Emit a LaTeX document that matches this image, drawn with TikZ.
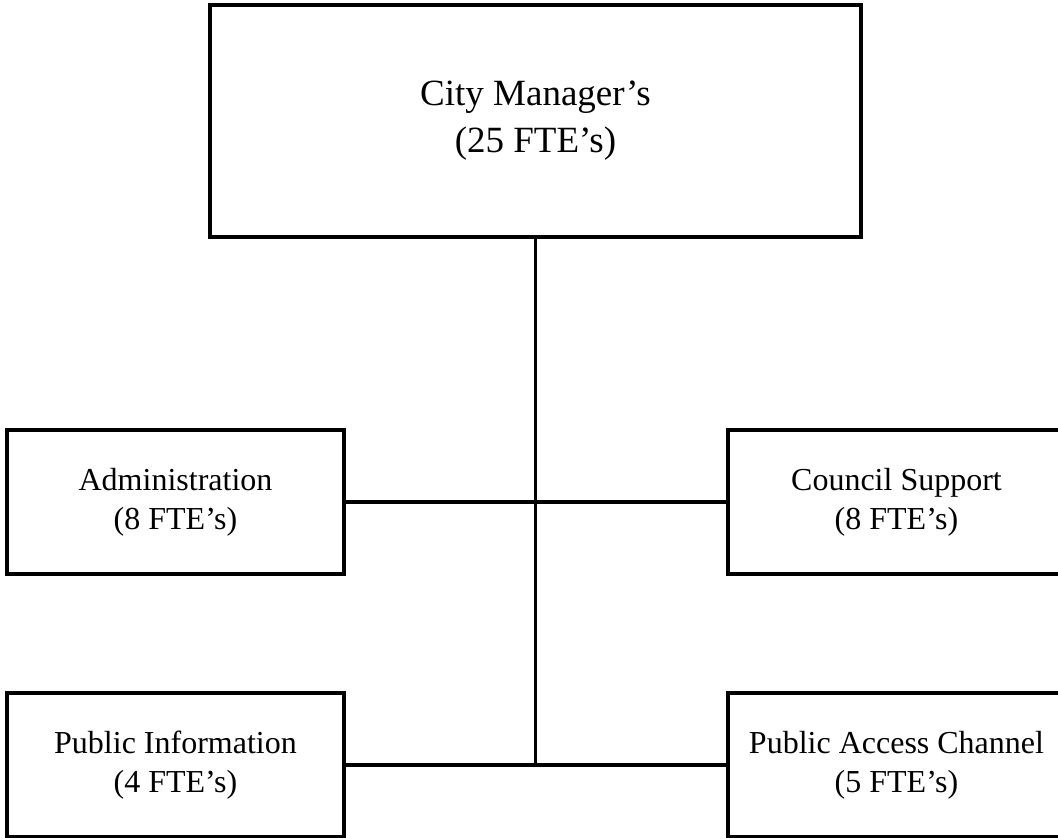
\documentclass[tikz,border=0pt]{standalone}
\usepackage{fontspec}
\setmainfont{Liberation Serif}
\begin{document}
\begin{tikzpicture}[x=1pt, y=-1pt,
  unitbox/.style={draw=black, line width=3.2pt, rectangle, inner sep=0pt,
    align=center, minimum width=337pt, minimum height=144pt,
    font=\fontsize{32}{39}\selectfont},
  headbox/.style={unitbox, minimum width=651pt, minimum height=232pt,
    font=\fontsize{37}{47}\selectfont},
  link/.style={draw=black, line width=3.2pt}]
  \useasboundingbox (0,0) rectangle (1058,838);
  \clip (0,0) rectangle (1058,838);

  % head office
  \node[headbox] (cm) at (535.5,121) {City Manager’s\\(25 FTE’s)};

  % divisions
  \node[unitbox] (adm) at (175.5,502) {Administration\\(8 FTE’s)};
  \node[unitbox] (cs)  at (896.5,502) {Council Support\\(8 FTE’s)};
  \node[unitbox] (pi)  at (175.5,765) {Public Information\\(4 FTE’s)};
  \node[unitbox] (pac) at (896.5,765) {Public Access Channel\\(5 FTE’s)};

  % trunk ends on the lower branch
  \coordinate (trunkend) at (cm.south |- pi.east);

  % connectors
  \draw[link] (cm.south) -- (trunkend);
  \draw[link] (adm.east) -- (cs.west);
  \draw[link] (pi.east) -- (pac.west);
\end{tikzpicture}
\end{document}
